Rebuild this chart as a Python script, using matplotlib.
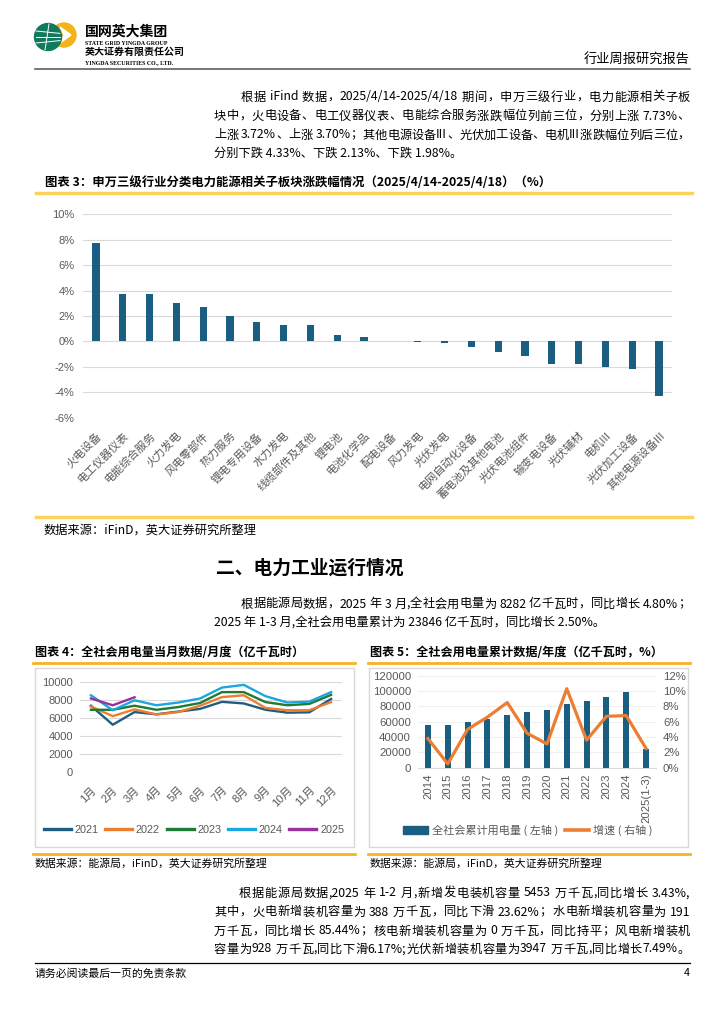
import re
import numpy as np
import matplotlib
matplotlib.use('Agg')
import matplotlib.pyplot as plt
from matplotlib.font_manager import FontProperties
from matplotlib.patches import Rectangle, Circle, Polygon, Patch
from matplotlib.lines import Line2D

# ---------------- data ----------------
cats3 = ['火电设备', '电工仪器仪表', '电能综合服务', '火力发电', '风电零部件', '热力服务',
         '锂电专用设备', '水力发电', '线缆部件及其他', '锂电池', '电池化学品', '配电设备',
         '风力发电', '光伏发电', '电网自动化设备', '蓄电池及其他电池', '光伏电池组件',
         '输变电设备', '光伏辅材', '电机III', '光伏加工设备', '其他电源设备III']
vals3 = [7.73, 3.72, 3.70, 3.00, 2.72, 2.00, 1.53, 1.32, 1.29, 0.52, 0.37, 0.01,
         -0.06, -0.14, -0.41, -0.82, -1.16, -1.74, -1.77, -1.98, -2.13, -4.33]
yticks3 = [-6, -4, -2, 0, 2, 4, 6, 8, 10]

months = ['1月', '2月', '3月', '4月', '5月', '6月', '7月', '8月', '9月', '10月', '11月', '12月']
y2021 = [7350, 5250, 6650, 6400, 6700, 7000, 7780, 7600, 6900, 6580, 6620, 8100]
y2022 = [7250, 6200, 6950, 6380, 6650, 7350, 8300, 8500, 7100, 6850, 6850, 7750]
y2023 = [6900, 6900, 7350, 6900, 7200, 7650, 8850, 8850, 7750, 7400, 7550, 8550]
y2024 = [8500, 6850, 7950, 7400, 7700, 8150, 9350, 9650, 8400, 7700, 7800, 8850]
y2025 = [8150, 7400, 8282]
series4 = [('2021', y2021, '#1f5c84'), ('2022', y2022, '#ed7d31'), ('2023', y2023, '#1e7a34'),
           ('2024', y2024, '#1ca6e0'), ('2025', y2025, '#9a2fa0')]
yticks4 = [0, 2000, 4000, 6000, 8000, 10000]

years5 = ['2014', '2015', '2016', '2017', '2018', '2019', '2020', '2021', '2022', '2023', '2024', '2025(1-3)']
usage5 = [55233, 55500, 59198, 63077, 68449, 72255, 75110, 83128, 86372, 92241, 98521, 23846]
growth5 = [3.8, 0.5, 5.0, 6.6, 8.5, 4.5, 3.1, 10.3, 3.6, 6.7, 6.8, 2.5]
yticks5 = [0, 20000, 40000, 60000, 80000, 100000, 120000]
yticks5r = [0, 2, 4, 6, 8, 10, 12]

# ---------------- page setup ----------------
W, H = 724, 1024
fig = plt.figure(figsize=(W / 100, H / 100), dpi=100)
bg = fig.add_axes([0, 0, 1, 1])
bg.set_xlim(0, W)
bg.set_ylim(H, 0)
bg.axis('off')

CJK = ['Noto Sans CJK SC', 'DejaVu Sans']
SANS = ['Liberation Sans', 'Noto Sans CJK SC', 'DejaVu Sans']
GRAY = '#595959'
renderer = fig.canvas.get_renderer()


def ax_px(l, t, r, b):
    return fig.add_axes([l / W, 1 - b / H, (r - l) / W, (b - t) / H])


def adv(tok, fp):
    w1, _, _ = renderer.get_text_width_height_descent('|' + tok + '|', fp, ismath=False)
    w0, _, _ = renderer.get_text_width_height_descent('||', fp, ismath=False)
    return w1 - w0


def line(s, x0, y, size, x1=None, weight='normal', color='#000000', ha='left'):
    fp = FontProperties(family=CJK, size=size, weight=weight)
    if x1 is None:
        bg.text(x0, y, s, fontproperties=fp, color=color, ha=ha, va='center')
        return
    toks = re.findall(r'[!-~]+| +|.', s)
    advs = [adv(t, fp) for t in toks]
    gap = (x1 - x0 - sum(advs)) / max(len(toks) - 1, 1)
    x = x0
    for t, a in zip(toks, advs):
        if not t.isspace():
            bg.text(x, y, t, fontproperties=fp, color=color, ha='left', va='center')
        x += a + gap


# ---------------- header ----------------
bg.add_patch(Circle((64, 35), 12, color='#f2b418', zorder=2))
bg.add_patch(Polygon([[60, 27], [71, 35], [60, 43], [64, 35]], closed=True, color='white', zorder=3))
bg.add_patch(Circle((48, 37), 13.5, color='#117a5c', zorder=4))
for dy in (-6, 0, 6):
    bg.plot([36, 60], [37 + dy, 37 + dy * 0.6], color='white', lw=0.7, zorder=5)
bg.plot([49, 45], [24, 50], color='white', lw=0.7, zorder=5)
bg.text(85, 31.5, '国网英大集团', fontproperties=FontProperties(family=CJK, size=10, weight='bold'), va='center')
bg.text(85, 43.5, 'STATE GRID YINGDA GROUP',
        fontproperties=FontProperties(family=['Liberation Serif'], size=4.2, weight='bold'), va='center')
bg.text(85, 52, '英大证券有限责任公司', fontproperties=FontProperties(family=CJK, size=7.2, weight='bold'), va='center')
bg.text(85, 62.5, 'YINGDA SECURITIES CO., LTD.',
        fontproperties=FontProperties(family=['Liberation Serif'], size=4.2, weight='bold'), va='center')
line('行业周报研究报告', 690, 60, 9.5, ha='right')
bg.plot([35, 690], [69, 69], color='#606060', lw=1.2)

# ---------------- paragraph 1 ----------------
p1 = ['根据 iFind 数据，2025/4/14-2025/4/18 期间，申万三级行业，电力能源相关子板',
      '块中，火电设备、电工仪器仪表、电能综合服务涨跌幅位列前三位，分别上涨 7.73%、',
      '上涨 3.72%、上涨 3.70%；其他电源设备III、光伏加工设备、电机III涨跌幅位列后三位，',
      '分别下跌 4.33%、下跌 2.13%、下跌 1.98%。']
line(p1[0], 241, 97, 8.8, x1=690)
line(p1[1], 214, 116, 8.8, x1=690)
line(p1[2], 214, 135, 8.8, x1=690)
line(p1[3], 214, 153, 8.8)

# ---------------- chart 3 ----------------
line('图表 3：申万三级行业分类电力能源相关子板块涨跌幅情况（2025/4/14-2025/4/18）（%）', 45, 182.5, 8.9,
     weight='bold')
bg.plot([36, 692], [193, 193], color='#fbd35c', lw=2.5)
ax3 = ax_px(82.6, 214.3, 672.4, 417.7)
x3 = np.arange(len(cats3))
ax3.bar(x3, vals3, width=0.27, color='#1a5e82', zorder=3)
ax3.set_xlim(-0.5, len(cats3) - 0.5)
ax3.set_ylim(-6, 10)
ax3.set_yticks(yticks3)
ax3.set_yticklabels([f'{v}%' for v in yticks3], fontfamily=SANS, fontsize=8, color=GRAY)
ax3.set_xticks(x3)
ax3.set_xticklabels(cats3, rotation=45, ha='right', rotation_mode='anchor',
                    fontfamily=CJK, fontsize=8, color=GRAY)
ax3.tick_params(axis='both', length=0)
ax3.tick_params(axis='x', pad=9)
ax3.tick_params(axis='y', pad=6)
ax3.grid(axis='y', color='#d9d9d9', lw=0.8, zorder=0)
for s in ax3.spines.values():
    s.set_visible(False)
ax3.set_facecolor('none')
bg.plot([36, 692], [517, 517], color='#fbd35c', lw=2.5)
line('数据来源：iFinD，英大证券研究所整理', 44, 530, 8.8)

# ---------------- section 2 ----------------
line('二、电力工业运行情况', 216, 568, 13.5, weight='bold')
line('根据能源局数据，2025 年 3 月,全社会用电量为 8282 亿千瓦时，同比增长 4.80%；', 241, 604, 8.8, x1=690)
line('2025 年 1-3 月,全社会用电量累计为 23846 亿千瓦时，同比增长 2.50%。', 214, 623, 8.8)

# ---------------- chart 4 ----------------
line('图表 4：全社会用电量当月数据/月度（亿千瓦时）', 35, 653, 8.7, weight='bold')
bg.plot([33, 355], [662.5, 662.5], color='#f5b422', lw=2)
bg.add_patch(Rectangle((35, 668), 319, 179, fill=False, ec='#d9d9d9', lw=1))
ax4 = ax_px(80, 681.7, 342, 772.3)
x4 = np.arange(len(months))
handles4 = []
for name, vals, col in series4:
    ax4.plot(x4[:len(vals)], vals, color=col, lw=1.7, zorder=3)
    handles4.append(Line2D([], [], color=col, lw=2.4))
ax4.set_xlim(-0.5, len(months) - 0.5)
ax4.set_ylim(0, 10000)
ax4.set_yticks(yticks4)
ax4.set_yticklabels([str(v) for v in yticks4], fontfamily=SANS, fontsize=8, color=GRAY)
ax4.set_xticks(x4)
ax4.set_xticklabels(months, rotation=45, ha='right', rotation_mode='anchor',
                    fontfamily=SANS, fontsize=8, color=GRAY)
ax4.tick_params(axis='both', length=0)
ax4.tick_params(axis='x', pad=9)
ax4.tick_params(axis='y', pad=5)
ax4.grid(axis='y', color='#d9d9d9', lw=0.8, zorder=0)
for s in ax4.spines.values():
    s.set_visible(False)
ax4.set_facecolor('none')
fig.legend(handles4, [s[0] for s in series4], loc='center', bbox_to_anchor=(194 / W, 1 - 830 / H),
           ncol=5, frameon=False, prop=FontProperties(family=SANS, size=7.8), labelcolor=GRAY,
           handlelength=2.5, handletextpad=0.35, columnspacing=0.6)
bg.plot([33, 355], [853.5, 853.5], color='#f5b422', lw=2)
line('数据来源：能源局，iFinD，英大证券研究所整理', 35, 864, 7.8)

# ---------------- chart 5 ----------------
line('图表 5：全社会用电量累计数据/年度（亿千瓦时，%）', 370, 653, 8.7, weight='bold')
bg.plot([368, 690], [662.5, 662.5], color='#f5b422', lw=2)
bg.add_patch(Rectangle((369, 668), 319, 179, fill=False, ec='#d9d9d9', lw=1))
ax5 = ax_px(418, 675.7, 656, 767.7)
x5 = np.arange(len(years5))
ax5.bar(x5, usage5, width=0.31, color='#1a5e82', zorder=3)
ax5.set_xlim(-0.5, len(years5) - 0.5)
ax5.set_ylim(0, 120000)
ax5.set_yticks(yticks5)
ax5.set_yticklabels([str(v) for v in yticks5], fontfamily=SANS, fontsize=8.2, color=GRAY)
ax5.set_xticks(x5)
ax5.set_xticklabels(years5, rotation=90, ha='center', va='top', fontfamily=SANS, fontsize=8.2, color=GRAY)
ax5.tick_params(axis='both', length=0)
ax5.tick_params(axis='x', pad=4)
ax5.tick_params(axis='y', pad=5)
ax5.grid(axis='y', color='#efefef', lw=0.8, zorder=0)
for k, s in ax5.spines.items():
    s.set_visible(k == 'bottom')
ax5.spines['bottom'].set_color('#d9d9d9')
ax5.set_facecolor('none')
ax5r = ax5.twinx()
ax5r.plot(x5, growth5, color='#ed7d31', lw=2.3, zorder=4)
ax5r.set_ylim(0, 12)
ax5r.set_yticks(yticks5r)
ax5r.set_yticklabels([f'{v}%' for v in yticks5r], fontfamily=SANS, fontsize=8.2, color=GRAY)
ax5r.tick_params(axis='y', length=0, pad=5)
for s in ax5r.spines.values():
    s.set_visible(False)
h5 = [Patch(color='#1a5e82'), Line2D([], [], color='#ed7d31', lw=2.6)]
fig.legend(h5, ['全社会累计用电量 ( 左轴 )', '增速 ( 右轴 )'], loc='center',
           bbox_to_anchor=(528 / W, 1 - 830 / H), ncol=2, frameon=False,
           prop=FontProperties(family=CJK, size=8), labelcolor=GRAY,
           handlelength=2.2, handletextpad=0.35, columnspacing=0.6)
bg.plot([368, 690], [853.5, 853.5], color='#f5b422', lw=2)
line('数据来源：能源局，iFinD，英大证券研究所整理', 370, 864, 7.8)

# ---------------- paragraph 3 ----------------
p3 = ['根据能源局数据,2025 年 1-2 月,新增发电装机容量 5453 万千瓦,同比增长 3.43%,',
      '其中，火电新增装机容量为 388 万千瓦，同比下滑 23.62%；水电新增装机容量为 191',
      '万千瓦，同比增长 85.44%；核电新增装机容量为 0 万千瓦，同比持平；风电新增装机',
      '容量为928 万千瓦,同比下滑6.17%;光伏新增装机容量为3947 万千瓦,同比增长7.49%。']
line(p3[0], 239, 893, 8.8, x1=690)
line(p3[1], 214, 912, 8.8, x1=690)
line(p3[2], 214, 931, 8.8, x1=690)
line(p3[3], 214, 949, 8.8, x1=690)

# ---------------- footer ----------------
bg.plot([35, 690], [963, 963], color='black', lw=0.9)
line('请务必阅读最后一页的免责条款', 35, 973, 7.8)
line('4', 690, 973, 7.8, ha='right')

fig.savefig('out.png', dpi=100)
